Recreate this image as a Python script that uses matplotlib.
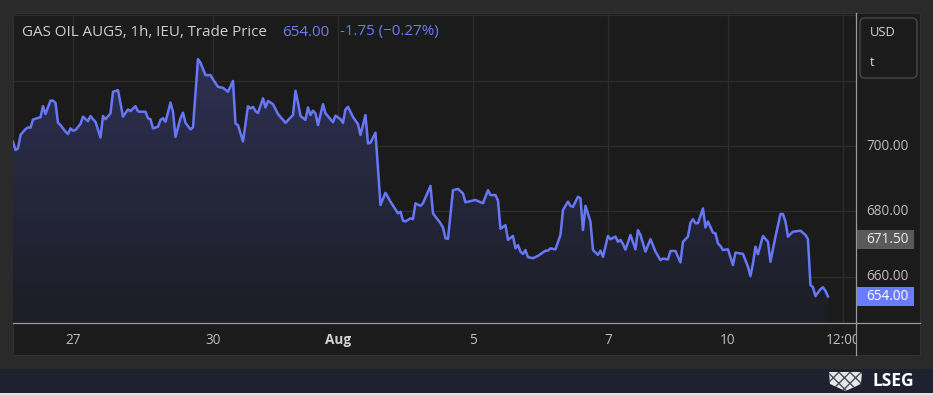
import matplotlib
matplotlib.use("Agg")
import matplotlib.pyplot as plt
import numpy as np
from matplotlib.patches import Rectangle, FancyBboxPatch, Polygon
from matplotlib.lines import Line2D
from matplotlib.colors import LinearSegmentedColormap
from matplotlib.transforms import (blended_transform_factory, Bbox,
                                   TransformedBbox, IdentityTransform)

plt.rcParams['font.family'] = ['Open Sans', 'DejaVu Sans']

# ---------------- data (hour index since first bar, trade price) ----------------
hours = [0, 1, 2, 3, 5, 6, 7, 8, 10, 11, 12, 13, 15, 16, 17, 18, 19, 21, 22, 23,
         24, 25, 27, 28, 30, 31, 32, 33, 35, 36, 37, 39, 40, 42, 44, 46, 47, 49, 50, 51,
         53, 54, 55, 56, 58, 59, 60, 61, 63, 64, 65, 67, 68, 69, 71, 72, 74, 75, 77, 79,
         80, 82, 84, 86, 88, 89, 90, 92, 94, 95, 96, 97, 98, 100, 101, 102, 104, 106, 109, 112,
         113, 114, 115, 117, 118, 119, 120, 121, 122, 124, 125, 128, 129, 131, 132, 133, 134, 136, 138, 139,
         141, 142, 143, 145, 147, 149, 151, 153, 154, 155, 156, 157, 159, 160, 161, 163, 164, 166, 167, 168,
         169, 171, 172, 173, 174, 176, 178, 180, 181, 184, 185, 188, 190, 191, 193, 194, 195, 197, 198, 200,
         201, 202, 203, 204, 205, 206, 208, 210, 213, 214, 215, 217, 219, 220, 222, 223, 224, 226, 227, 228,
         229, 231, 232, 234, 235, 236, 238, 239, 241, 242, 243, 244, 245, 247, 249, 250, 251, 253, 255, 257,
         259, 260, 262, 263, 265, 267, 268, 270, 271, 272, 273, 274, 276, 277, 278, 280, 281, 282, 283, 284,
         286, 288, 289, 292, 294, 295, 296, 297, 298, 300, 302, 303, 305, 307, 308, 309, 310, 312, 315, 317,
         318, 319, 320, 321, 323, 324, 325, 326]
prices = [701.3, 698.8, 699.3, 703.4, 705.2, 705.7, 705.6, 708.1, 708.6, 708.8,
          712.2, 709.8, 713.9, 713.9, 713.2, 707.1, 706.4, 704.4, 703.7, 705.4,
          704.7, 704.9, 706.8, 709.0, 707.6, 709.2, 708.2, 707.4, 702.6, 709.2,
          708.2, 710.0, 716.6, 717.1, 709.0, 711.2, 710.7, 712.2, 710.6, 710.5,
          710.5, 708.5, 708.2, 705.4, 705.9, 708.0, 708.5, 707.4, 713.3, 710.5,
          702.8, 708.5, 710.2, 707.1, 705.1, 705.7, 726.6, 725.5, 721.7, 721.7,
          720.4, 718.1, 717.8, 716.6, 719.9, 706.9, 706.4, 701.4, 712.2, 711.5,
          712.0, 710.7, 710.1, 714.6, 711.8, 713.8, 712.8, 709.8, 707.1, 709.5,
          716.9, 713.3, 709.2, 708.0, 711.8, 709.5, 710.8, 710.0, 706.4, 712.8,
          710.0, 707.3, 709.3, 708.2, 707.1, 711.2, 712.0, 708.9, 706.7, 703.4,
          709.5, 700.8, 701.0, 704.1, 682.0, 685.7, 683.0, 680.6, 679.4, 679.9,
          677.2, 676.9, 677.9, 677.6, 682.5, 681.7, 682.5, 686.0, 687.8, 679.4,
          678.4, 676.4, 675.1, 671.8, 671.6, 686.5, 686.9, 685.5, 682.8, 683.3,
          683.5, 682.5, 686.5, 685.0, 685.0, 683.3, 674.7, 675.8, 671.3, 672.5,
          668.7, 669.7, 667.7, 667.0, 668.2, 666.0, 665.7, 666.4, 668.0, 668.0,
          668.7, 668.4, 672.8, 680.4, 683.0, 681.7, 681.4, 684.5, 684.0, 674.3,
          681.7, 676.9, 668.2, 666.7, 668.0, 666.1, 672.5, 671.5, 672.3, 670.7,
          671.3, 670.0, 668.3, 672.8, 668.4, 674.3, 672.8, 667.7, 671.5, 667.7,
          665.1, 665.6, 665.3, 667.9, 667.9, 664.4, 670.7, 672.3, 676.5, 677.6,
          676.4, 676.4, 680.9, 675.1, 676.9, 673.5, 673.3, 670.2, 669.4, 668.2,
          668.4, 663.6, 667.4, 667.0, 663.1, 660.2, 664.1, 669.2, 666.9, 672.5,
          670.7, 664.6, 672.3, 679.2, 679.2, 676.9, 672.3, 673.8, 674.1, 672.8,
          671.5, 657.5, 656.8, 654.1, 656.2, 656.8, 655.7, 654.0]

x_tick_pos = [24, 80, 130, 184, 238, 286, 332]
x_tick_labels = ["27", "30", "Aug", "5", "7", "10", "12:00"]
y_tick_values = [660, 680, 700]
y_grid_values = [660, 680, 700, 720, 740]
title_text = "GAS OIL AUG5, 1h, IEU, Trade Price"
last_text = "654.00"
change_text = "-1.75 (\u22120.27%)"
ref_price = 671.50
last_price = 654.00
unit_lines = ["USD", "t"]

# ---------------- style ----------------
OUTER = "#2a2a2a"
PANEL = "#1b1b1b"
GRID = "#2d2d2d"
LINE = "#6877f8"
BLUE = "#6b7bff"
TXT = "#bdbdbd"
FS = 9.8

W, H = 933, 395
fig = plt.figure(figsize=(W / 100, H / 100), dpi=100)
fig.patch.set_facecolor(OUTER)


def fx(px):
    return px / W


def fy(py):
    return 1 - py / H


def rect_px(x0, y0, x1, y1, **kw):
    fig.add_artist(Rectangle((fx(x0), fy(y1)), fx(x1) - fx(x0), fy(y0) - fy(y1),
                             transform=fig.transFigure, **kw))


def line_px(x0, y0, x1, y1, **kw):
    fig.add_artist(Line2D([fx(x0), fx(x1)], [fy(y0), fy(y1)],
                          transform=fig.transFigure, **kw))


# panel
rect_px(13, 13, 920, 355, facecolor=PANEL, edgecolor="#303030", lw=0.8, zorder=-5)

# main axes
ax = fig.add_axes([fx(13), fy(323), fx(855.7) - fx(13), fy(13) - fy(323)])
ax.set_facecolor("none")
ax.set_zorder(1)
ymin, ymax = 645.87, 740.7
for s in ax.spines.values():
    s.set_visible(False)
ax.set_xticks([])
ax.set_yticks([])

for v in y_grid_values:
    ax.axhline(v, color=GRID, lw=0.9, zorder=0)
for t in x_tick_pos:
    ax.axvline(t, color=GRID, lw=0.9, zorder=0)

# gradient area
cmap = LinearSegmentedColormap.from_list("area", ["#1c1d25", "#30345a"])
grad = np.linspace(0, 1, 256).reshape(-1, 1)
im = ax.imshow(grad, extent=[hours[0], hours[-1], ymin, ymax], origin="lower",
               aspect="auto", cmap=cmap, zorder=1, interpolation="bilinear")
verts = [(hours[0], ymin)] + list(zip(hours, prices)) + [(hours[-1], ymin)]
poly = Polygon(verts, closed=True, transform=ax.transData, facecolor="none",
               edgecolor="none")
ax.add_patch(poly)
im.set_clip_path(poly)
ax.set_xlim(0, 337.1)
ax.set_ylim(ymin, ymax)

ax.plot(hours, prices, color=LINE, lw=1.8, solid_joinstyle="round", zorder=3)

# axis separators
line_px(855.7, 13, 855.7, 355, color="#9a9a9a", lw=0.9, zorder=5)
line_px(13, 322.7, 920, 322.7, color="#9a9a9a", lw=0.9, zorder=5)

# y tick labels
ty = blended_transform_factory(fig.transFigure, ax.transData)
for v in y_tick_values:
    fig.text(fx(866), v, f"{v:.2f}", transform=ty, va="center", ha="left",
             color=TXT, fontsize=FS, zorder=6)

# price boxes
box_h = 19 / 3.27
fig.add_artist(Rectangle((fx(856.5), ref_price - box_h / 2), fx(914) - fx(856.5), box_h,
                         transform=ty, facecolor="#5a5a5a", edgecolor="none", zorder=6))
fig.text(fx(866), ref_price, f"{ref_price:.2f}", transform=ty, va="center",
         ha="left", color="#ececec", fontsize=FS, zorder=7)
fig.add_artist(Rectangle((fx(856.5), last_price - box_h / 2), fx(914) - fx(856.5), box_h,
                         transform=ty, facecolor=BLUE, edgecolor="none", zorder=6))
fig.text(fx(866), last_price, f"{last_price:.2f}", transform=ty, va="center",
         ha="left", color="white", fontsize=FS, zorder=7)

# x tick labels
tx = blended_transform_factory(ax.transData, fig.transFigure)
clip = TransformedBbox(Bbox([[fx(13), 0], [fx(855.7), 1]]), fig.transFigure)
for pos, lab in zip(x_tick_pos, x_tick_labels):
    bold = lab.isalpha()
    t = fig.text(pos, fy(340), lab, transform=tx, ha="center", va="center",
                 color="#d2d2d2" if bold else TXT, fontsize=FS,
                 fontweight="bold" if bold else "normal", zorder=6)
    t.set_clip_box(clip)
    t.set_clip_on(True)

# unit box
fig.add_artist(FancyBboxPatch((860, H - 78), 57, 60,
                              boxstyle="round,pad=0,rounding_size=5",
                              transform=IdentityTransform(), facecolor=PANEL,
                              edgecolor="#474747", lw=1.0, zorder=6))
fig.text(fx(870), fy(33), unit_lines[0], ha="left", va="center", color="#d6d6d6",
         fontsize=9.3, zorder=7)
fig.text(fx(870), fy(63), unit_lines[1], ha="left", va="center", color="#d6d6d6",
         fontsize=9.3, zorder=7)

# title row
fig.text(fx(22), fy(32), title_text, ha="left", va="center", color="#cfcfcf",
         fontsize=10.9, zorder=7)
fig.text(fx(282.5), fy(32), last_text, ha="left", va="center", color=BLUE,
         fontsize=10.9, zorder=7)
fig.text(fx(339.5), fy(32), change_text, ha="left", va="center", color=BLUE,
         fontsize=10.9, zorder=7)

# bottom branding strip
rect_px(0, 369, 933, 393, facecolor="#1e2230", edgecolor="none", zorder=-4)
rect_px(0, 393, 933, 395, facecolor="#e4e4e4", edgecolor="none", zorder=-4)
shield = [(fx(829), fy(372)), (fx(862), fy(372)), (fx(861), fy(384)),
          (fx(845.5), fy(391)), (fx(830), fy(384))]
fig.add_artist(Polygon(shield, closed=True, transform=fig.transFigure,
                       facecolor="#e8e8e8", edgecolor="#4a4e5a", hatch="xxx",
                       lw=0.0, zorder=5))
fig.text(fx(873), fy(381.5), "LSEG", ha="left", va="center", color="white",
         fontsize=12.5, fontweight="bold", zorder=6)

fig.savefig("out.png", dpi=100, facecolor=fig.get_facecolor())
